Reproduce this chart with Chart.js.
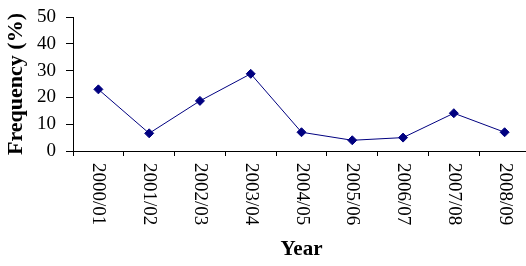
<!DOCTYPE html>
<html>
<head>
<meta charset="utf-8">
<script src="https://cdn.jsdelivr.net/npm/chart.js@4"></script>
<style>
  html, body { margin: 0; padding: 0; background: #fff; overflow: hidden; }
</style>
</head>
<body>
<canvas id="myChart" width="540" height="266"></canvas>
<script>
// Season labels along the x-axis
var seasons = ['2000/01', '2001/02', '2002/03', '2003/04', '2004/05', '2005/06', '2006/07', '2007/08', '2008/09'];
// Frequency values (%)
var frequency = [23, 6.6, 18.7, 28.8, 7, 4, 5, 14.1, 7];
// y-axis range
var yMin = 0;
var yMax = 50;
var yStep = 10;

var serif = '"Liberation Serif", "Times New Roman", serif';

// draws the x labels turned 90 degrees clockwise, as in the original
var downLabels = {
  id: 'downLabels',
  afterDraw: function (chart) {
    var x = chart.scales.x;
    var ctx = chart.ctx;
    ctx.save();
    ctx.font = '19px ' + serif;
    ctx.fillStyle = '#000';
    ctx.textAlign = 'left';
    ctx.textBaseline = 'middle';
    seasons.forEach(function (s, i) {
      ctx.save();
      ctx.translate(x.getPixelForValue(i), x.top + 12);
      ctx.rotate(Math.PI / 2);
      ctx.fillText(s, 0, 0);
      ctx.restore();
    });
    ctx.restore();
  }
};

var ctx = document.getElementById('myChart');
var myChart = new Chart(ctx, {
  type: 'line',
  data: {
    labels: seasons,
    datasets: [{
      data: frequency,
      fill: false,
      borderColor: '#000080',
      borderWidth: 1,
      pointStyle: 'rectRot',
      pointRadius: 4.5,
      pointBackgroundColor: '#000080',
      pointBorderColor: '#000080',
      pointBorderWidth: 1,
      tension: 0
    }]
  },
  options: {
    responsive: false,
    animation: false,
    layout: { padding: { top: 17, right: 10, left: 0, bottom: 0 } },
    plugins: { legend: { display: false }, tooltip: { enabled: false } },
    scales: {
      x: {
        offset: true,
        grid: { offset: true, drawOnChartArea: false, drawTicks: true, tickLength: 5, color: '#000' },
        border: { color: '#000', width: 1 },
        ticks: { display: false },
        title: {
          display: true,
          text: 'Year',
          color: '#000',
          font: { family: serif, size: 21, weight: 'bold' },
          padding: { top: 0, bottom: 4 }
        },
        afterFit: function (s) { s.height = 115; }
      },
      y: {
        min: yMin,
        max: yMax,
        ticks: { stepSize: yStep, color: '#000', font: { family: serif, size: 19, lineHeight: 0.6 }, padding: 10 },
        grid: { drawOnChartArea: false, drawTicks: true, tickLength: 7, color: '#000' },
        border: { color: '#000', width: 1 },
        title: {
          display: true,
          text: 'Frequency (%)',
          color: '#000',
          font: { family: serif, size: 22, weight: 'bold' },
          padding: { top: 3, bottom: 0 }
        },
        afterFit: function (s) { s.width = 73; }
      }
    }
  },
  plugins: [downLabels]
});
</script>
</body>
</html>
